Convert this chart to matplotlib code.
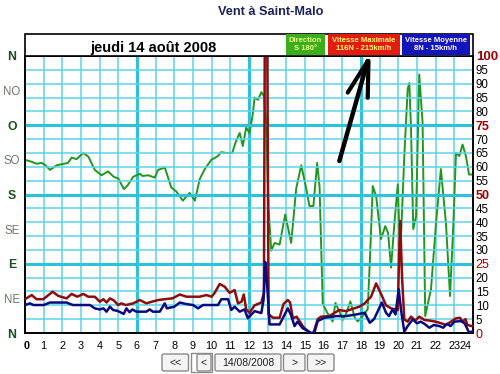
import matplotlib
matplotlib.use("Agg")
import matplotlib.pyplot as plt
from matplotlib.patches import Rectangle, FancyBboxPatch
import matplotlib.transforms as mtransforms

plt.rcParams['font.family'] = ['Liberation Sans', 'DejaVu Sans']

# ---------------- data ----------------
title = "Vent à Saint-Malo"
day_label = "jeudi 14 août 2008"
date_button = "14/08/2008"

hours = list(range(0, 25))
dir_labels = ["N", "NE", "E", "SE", "S", "SO", "O", "NO", "N"]
dir_ticks = [0, 45, 90, 135, 180, 225, 270, 315, 360]
speed_ticks = list(range(0, 101, 5))

# direction (degrees) over the day
dir_hours = [0.0, 0.3, 0.62, 0.9, 1.1, 1.34, 1.7, 2.3, 2.5, 2.76, 3.12, 3.4, 3.74, 4.1,
             4.45, 4.75, 4.99, 5.3, 5.5, 5.8, 6.15, 6.3, 6.6, 6.95, 7.13, 7.49, 7.84,
             8.1, 8.46, 8.82, 9.1, 9.36, 9.63, 9.98, 10.34, 10.5, 10.8, 11.1, 11.3,
             11.5, 11.67, 11.85, 12.03, 12.2, 12.3, 12.48, 12.66, 12.8, 12.92, 13.05,
             13.19, 13.37, 13.64, 13.94, 14.26, 14.53, 14.8, 15.03, 15.24, 15.45,
             15.65, 15.78, 15.95, 16.2, 16.48, 16.63, 16.84, 17.02, 17.2, 17.43,
             17.65, 17.82, 18.09, 18.36, 18.5, 18.63, 18.81, 19.07, 19.3, 19.45,
             19.61, 19.79, 19.97, 20.1, 20.32, 20.5, 20.59, 20.68, 20.8, 20.95,
             21.12, 21.3, 21.44, 21.75, 22.02, 22.28, 22.55, 22.77, 22.95, 23.09,
             23.27, 23.44, 23.62, 23.79, 23.94]
dir_deg = [225, 223, 220, 221, 218, 212, 218, 221, 228, 226, 234, 229, 212, 205,
           210, 203, 201, 187, 192, 203, 207, 204, 205, 202, 212, 215, 189,
           184, 172, 182, 172, 200, 213, 225, 230, 235, 234, 234, 249,
           260, 243, 267, 260, 284, 306, 303, 313, 308, 273, 162,
           107, 117, 115, 154, 117, 188, 218, 192, 165, 165,
           221, 190, 38, 26, 15, 39, 28, 17, 25, 41,
           21, 15, 22, 31, 108, 191, 178, 122, 139, 130,
           85, 143, 193, 100, 230, 317, 325, 265, 135, 152,
           336, 273, 22, 57, 143, 213, 143, 48, 143, 234,
           230, 245, 230, 206, 206]

# maximum speed (knots) over the day
max_hours = [0.0, 0.36, 0.62, 0.98, 1.48, 1.78, 2.23, 2.5, 2.8, 3.12, 3.39, 3.74, 4.01,
             4.2, 4.37, 4.55, 4.75, 4.99, 5.15, 5.4, 5.8, 6.15, 6.5, 6.8, 7.13, 7.49,
             7.9, 8.29, 8.65, 9.0, 9.36, 9.72, 10.0, 10.16, 10.43, 10.7, 10.96, 11.23,
             11.41, 11.6, 11.72, 11.85, 12.03, 12.3, 12.66, 12.8, 12.85, 12.97, 13.05,
             13.3, 13.64, 13.85, 14.08, 14.2, 14.35, 14.55, 14.9, 15.24, 15.45, 15.68,
             15.86, 16.3, 16.84, 17.2, 17.55, 17.91, 18.2, 18.36, 18.54, 18.81, 19.12,
             19.34, 19.61, 19.97, 20.05, 20.1, 20.2, 20.32, 20.5, 20.68, 20.9, 21.12,
             21.4, 21.66, 22.0, 22.3, 22.55, 22.8, 23.09, 23.3, 23.44, 23.6, 23.7, 23.94]
max_speed = [12.2, 13.7, 12.2, 12.2, 14.9, 13.4, 12.5, 14.1, 13.1, 14.1, 13.1, 13.1, 11.3,
             12.2, 11.0, 12.5, 11.8, 10.1, 10.7, 10.1, 10.7, 11.9, 10.7, 11.3, 11.9, 12.2,
             12.5, 13.9, 13.1, 13.1, 13.1, 13.7, 13.1, 14.5, 17.7, 16.7, 14.5, 15.5,
             10.7, 11.3, 13.9, 8.5, 7.3, 10.0, 11.0, 14.5, 116, 116, 6.7,
             5.5, 5.5, 10.5, 11.9, 11.0, 5.3, 5.9, 2.3, 0.0, 0.0, 5.0,
             5.9, 6.1, 8.3, 7.9, 8.7, 9.5, 10.7, 11.9, 13.1, 17.9, 13.4,
             10.0, 8.9, 8.3, 30.0, 40.4, 20.0, 4.9, 4.1, 5.9, 4.5, 5.9,
             4.7, 4.5, 4.1, 3.5, 2.9, 4.0, 5.3, 5.5, 4.1, 5.0, 2.9, 2.5]

# mean speed (knots) over the day
mean_hours = [0.0, 0.27, 0.45, 1.0, 1.34, 2.23, 2.4, 2.58, 3.48, 3.74, 4.01, 4.2, 4.37,
              4.55, 4.72, 4.95, 5.29, 5.43, 5.6, 5.75, 5.97, 6.5, 6.68, 6.85, 7.22, 7.49,
              7.6, 8.0, 8.29, 8.6, 9.0, 9.27, 9.54, 10.34, 10.52, 10.88, 11.05, 11.23,
              11.5, 11.76, 11.94, 12.1, 12.3, 12.66, 12.78, 12.87, 12.95, 13.1, 13.64,
              14.08, 14.25, 14.44, 14.6, 14.88, 15.1, 15.33, 15.5, 15.68, 16.04, 16.67,
              17.2, 17.75, 18.2, 18.47, 18.7, 18.9, 19.12, 19.34, 19.5, 19.69, 19.85,
              20.02, 20.15, 20.32, 20.5, 20.77, 21.0, 21.2, 21.4, 21.66, 21.9, 22.2, 22.4,
              22.6, 22.8, 23.0, 23.35, 23.55, 23.79, 23.94]
mean_speed = [10.1, 10.7, 10.1, 10.1, 11.0, 11.0, 10.5, 10.1, 10.1, 8.9, 8.5, 8.9, 7.7,
              9.5, 8.3, 8.0, 6.9, 8.9, 7.5, 8.5, 7.7, 7.7, 8.5, 7.7, 7.7, 10.7,
              8.9, 9.5, 11.0, 10.5, 10.1, 8.9, 10.1, 10.1, 12.2, 12.2, 8.3, 9.5,
              7.7, 8.5, 5.3, 6.5, 7.9, 7.2, 12.0, 25.6, 20.0, 3.1, 3.1,
              8.9, 6.5, 2.5, 4.1, 1.7, 1.0, 0.0, 0.0, 4.3, 5.5, 6.1,
              6.1, 6.7, 7.3, 3.7, 5.0, 7.9, 11.0, 7.3, 6.1, 8.5, 6.7,
              15.8, 8.0, 0.5, 2.5, 4.9, 3.5, 4.1, 3.3, 1.9, 2.9, 2.5, 1.9,
              3.3, 2.5, 4.1, 4.3, 3.5, 0.2, 0.5]

legend_titles = ["Direction", "Vitesse Maximale", "Vitesse Moyenne"]
legend_values = ["S 180°", "116N - 215km/h", "8N - 15km/h"]

# ---------------- figure ----------------
W, H = 500, 374
fig = plt.figure(figsize=(W / 100, H / 100), dpi=100)
fig.patch.set_facecolor('white')

def fx(px):
    return px / W

def fy(py):
    return 1 - py / H

L, R, T, B = 25, 473, 56, 333
ax = fig.add_axes([fx(L), fy(B), fx(R) - fx(L), fy(T) - fy(B)])
ax2 = ax.twinx()
ax2.patch.set_visible(False)

ax.set_xlim(0, 24)
ax.set_ylim(0, 360)
ax2.set_ylim(0, 100)

grid_c = '#5cd4e6'
grid_thick = '#2cc2da'
for v in speed_ticks:
    if v in (25, 50, 75):
        ax2.axhline(v, color=grid_thick, lw=2.2, zorder=0)
    elif v not in (0, 100):
        ax2.axhline(v, color=grid_c, lw=1.1, zorder=0)
for h in hours[1:-1]:
    if h in (6, 12, 18):
        ax.axvline(h, color=grid_thick, lw=2.2, zorder=0)
    else:
        ax.axvline(h, color=grid_c, lw=1.1, zorder=0)

ax.plot(dir_hours, dir_deg, color='#1f981f', lw=1.4, zorder=3)
ax2.plot(max_hours, max_speed, color='#8e0c0c', lw=1.8, zorder=3)
ax2.plot(mean_hours, mean_speed, color='#0a0a80', lw=1.8, zorder=4)

# hand drawn arrow
arrow_c = 'black'
ax2.plot([16.84, 18.36], [62.1, 98.2], color=arrow_c, lw=3.2, solid_capstyle='round', zorder=5, clip_on=False)
ax2.plot([17.29, 18.36], [86.8, 98.2], color=arrow_c, lw=3.0, solid_capstyle='round', zorder=5, clip_on=False)
ax2.plot([18.36, 18.40], [84.9, 98.2], color=arrow_c, lw=3.0, solid_capstyle='round', zorder=5, clip_on=False)

for a in (ax, ax2):
    for s in a.spines.values():
        s.set_color('black')
        s.set_linewidth(1.2)

# x ticks
ax.set_xticks(hours)
ax.set_xticklabels([str(h) for h in hours], fontsize=7.8)
ax.tick_params(axis='x', length=0, pad=6)
for lab in ax.get_xticklabels():
    if lab.get_text() == '0':
        lab.set_fontweight('bold')
        lab.set_transform(lab.get_transform() + mtransforms.ScaledTranslation(2 / 100, 0, fig.dpi_scale_trans))
    if lab.get_text() == '24':
        lab.set_transform(lab.get_transform() + mtransforms.ScaledTranslation(-7 / 100, 0, fig.dpi_scale_trans))

# left direction labels
ax.set_yticks(dir_ticks)
ax.set_yticklabels(dir_labels)
ax.tick_params(axis='y', length=0, pad=13 * 0.72)
for lab, d in zip(ax.get_yticklabels(), dir_ticks):
    lab.set_horizontalalignment('center')
    if d % 90 == 0:
        lab.set_fontweight('bold')
        lab.set_color('#1d4f1d')
        lab.set_fontsize(8.8)
    else:
        lab.set_color('#6e756e')
        lab.set_fontsize(8.3)

# right speed labels
ax2.set_yticks(speed_ticks)
ax2.set_yticklabels([str(v) for v in speed_ticks])
ax2.tick_params(axis='y', length=0, pad=2)
for lab, v in zip(ax2.get_yticklabels(), speed_ticks):
    if v % 25 == 0:
        lab.set_color('#a00000')
        lab.set_fontsize(9.5 if v == 100 else 9)
        if v in (100, 75, 50):
            lab.set_fontweight('bold')
    else:
        lab.set_color('black')
        lab.set_fontsize(8.3)

# header band
fig.patches.append(Rectangle((fx(L), fy(T)), fx(R) - fx(L), fy(34) - fy(T),
                             transform=fig.transFigure, facecolor='white',
                             edgecolor='black', lw=1.2, zorder=1))
fig.text(fx(153), fy(52), day_label, ha='center', va='baseline', fontsize=10.5,
         fontweight='bold', color='black')

boxes = [(286, 324.5, '#3cae1c', '#eaff8a'),
         (327.5, 399.5, '#e41c10', '#ffff70'),
         (401.5, 470.5, '#1414bc', '#ffffff')]
for (x0, x1, fc, tc), t1, t2 in zip(boxes, legend_titles, legend_values):
    fig.patches.append(Rectangle((fx(x0), fy(54.5)), fx(x1) - fx(x0), fy(34) - fy(54.5),
                                 transform=fig.transFigure, facecolor=fc,
                                 edgecolor='none', zorder=2))
    xc = (x0 + x1) / 2
    fig.text(fx(xc), fy(40), t1, ha='center', va='center', fontsize=5.5,
             fontweight='bold', color=tc)
    fig.text(fx(xc), fy(49), t2, ha='center', va='center', fontsize=5.5,
             fontweight='bold', color=tc)

# title
fig.text(fx(271), fy(12), title, ha='center', va='center', fontsize=9.2,
         fontweight='bold', color='#1c2358')

# navigation buttons
buttons = [(162, 188.5, "<<"), (197, 211, "<"), (215, 281, date_button),
           (283.5, 305, ">"), (307.5, 334, ">>")]
for x0, x1, txt in buttons:
    fig.patches.append(FancyBboxPatch((fx(x0), fy(371)), fx(x1) - fx(x0), fy(354) - fy(371),
                                      boxstyle='round,pad=0,rounding_size=0.004',
                                      transform=fig.transFigure, facecolor='#f4f4f4',
                                      edgecolor='#8a8a8a', lw=1.0))
    fig.text(fx((x0 + x1) / 2), fy(362.5), txt, ha='center', va='center',
             fontsize=7.5, color='#222222')
# outer border for the "<" button
fig.patches.append(Rectangle((fx(190.5), fy(372)), fx(212) - fx(190.5), fy(353) - fy(372),
                             transform=fig.transFigure, facecolor='none',
                             edgecolor='#8a8a8a', lw=1.0))

fig.savefig('out.png', dpi=100)
